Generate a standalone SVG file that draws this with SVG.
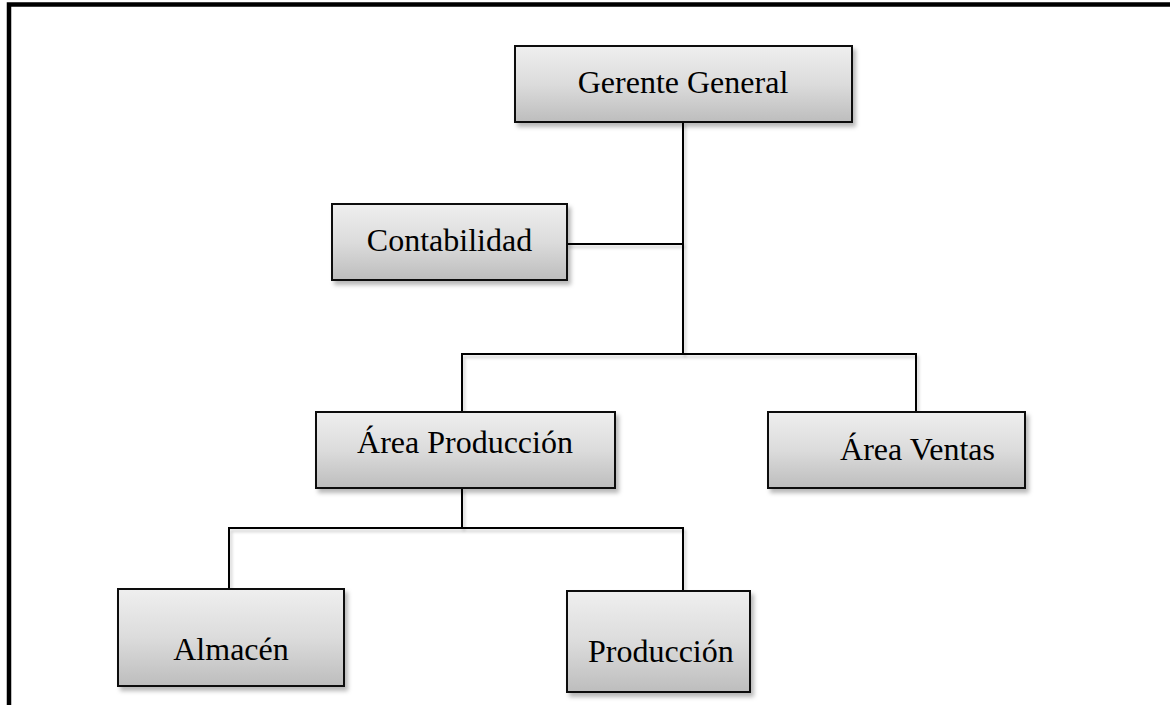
<svg xmlns="http://www.w3.org/2000/svg" width="1170" height="705" viewBox="0 0 1170 705">
  <style>
    .box { fill: url(#boxGrad); stroke: #111; stroke-width: 2; filter: url(#shadow); }
    .lbl { font-family: "Liberation Serif", "Times New Roman", serif; font-size: 32px; fill: #000; }
    .conn { fill: none; stroke: #000; stroke-width: 2; filter: url(#lineShadow); }
  </style>
  <defs>
    <linearGradient id="boxGrad" x1="0" y1="0" x2="0" y2="1">
      <stop offset="0" stop-color="#efefef"/>
      <stop offset="0.5" stop-color="#dcdcdc"/>
      <stop offset="1" stop-color="#bdbdbd"/>
    </linearGradient>
    <filter id="shadow" x="-10%" y="-10%" width="130%" height="140%">
      <feDropShadow dx="3" dy="4" stdDeviation="2" flood-color="#000" flood-opacity="0.28"/>
    </filter>
    <filter id="lineShadow" filterUnits="userSpaceOnUse" x="0" y="0" width="1170" height="705">
      <feDropShadow dx="2" dy="3" stdDeviation="1.5" flood-color="#000" flood-opacity="0.2"/>
    </filter>
  </defs>
  <rect width="1170" height="705" fill="#fff"/>
  <path d="M9,705 V4.5 H1170" fill="none" stroke="#000" stroke-width="4.5"/>

  <g id="connectors">
    <path class="conn" d="M683,122 V354"/>
    <path class="conn" d="M567,244 H683"/>
    <path class="conn" d="M462,412 V354 H916 V412"/>
    <path class="conn" d="M462,488 V528"/>
    <path class="conn" d="M229,589 V528 H683 V591"/>
  </g>

  <g id="gerente-general">
    <rect class="box" x="515" y="46" width="337" height="76"/>
    <text class="lbl" x="683" y="93" text-anchor="middle">Gerente General</text>
  </g>
  <g id="contabilidad">
    <rect class="box" x="332" y="204" width="235" height="76"/>
    <text class="lbl" x="449.5" y="251" text-anchor="middle">Contabilidad</text>
  </g>
  <g id="area-produccion">
    <rect class="box" x="316" y="412" width="299" height="76"/>
    <text class="lbl" x="465" y="453" text-anchor="middle">Área Producción</text>
  </g>
  <g id="area-ventas">
    <rect class="box" x="768" y="412" width="257" height="76"/>
    <text class="lbl" x="917.5" y="460" text-anchor="middle">Área Ventas</text>
  </g>
  <g id="almacen">
    <rect class="box" x="118" y="589" width="226" height="97"/>
    <text class="lbl" x="231" y="660" text-anchor="middle">Almacén</text>
  </g>
  <g id="produccion">
    <rect class="box" x="567" y="591" width="183" height="101"/>
    <text class="lbl" x="588" y="662">Producción</text>
  </g>
</svg>
